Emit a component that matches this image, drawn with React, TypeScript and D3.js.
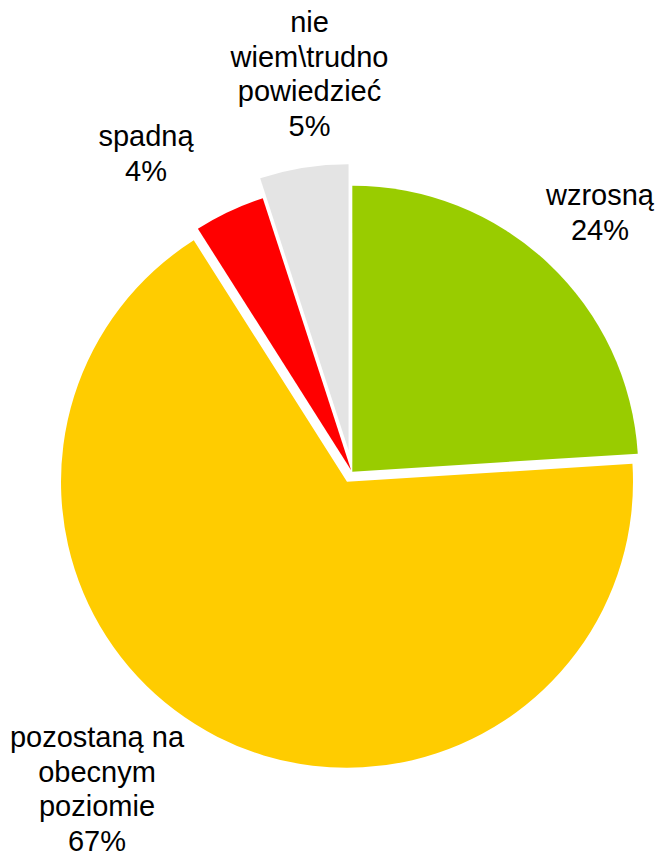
import React from "react";
import * as d3 from "d3";

const categories = ["wzrosną", "pozostaną na obecnym poziomie", "spadną", "nie wiem\\trudno powiedzieć"];
const values = [24, 67, 4, 5];
const labelLines = [["wzrosną"], ["pozostaną na", "obecnym", "poziomie"], ["spadną"], ["nie", "wiem\\trudno", "powiedzieć"]];
const colors = ["#99CC00", "#FFCC00", "#FF0000", "#E4E4E4"];

// layout
const W = 658;
const H = 855;
const CX = 352;
const CY = 472;
const R = 286;
const explode = [0.5, 11, 2, 22];
const labelAnchors = [
  [600, 205],
  [97, 747],
  [146, 146],
  [309.5, 32],
];
const FONT = 29;
const LINE = 34.5;

export default function App() {
  const pie = d3.pie<number>().sort(null).value((d) => d)(values);
  const arc = d3.arc<d3.PieArcDatum<number>>().innerRadius(0).outerRadius(R);
  return (
    <svg width={W} height={H} style={{ position: "absolute", left: 0, top: 0 }}>
      <rect width={W} height={H} fill="#fff" />
      <g transform={`translate(${CX},${CY})`}>
        {pie.map((p, i) => {
          const mid = (p.startAngle + p.endAngle) / 2;
          const dx = Math.sin(mid) * explode[i];
          const dy = -Math.cos(mid) * explode[i];
          return (
            <path key={categories[i]} d={arc(p) || ""} fill={colors[i]} transform={`translate(${dx},${dy})`} />
          );
        })}
      </g>
      {pie.map((p, i) => {
        const [x, y] = labelAnchors[i];
        const lines = [...labelLines[i], `${values[i]}%`];
        return (
          <text
            key={"l" + i}
            x={x}
            y={y}
            textAnchor="middle"
            fontFamily="'Liberation Sans', Arial, sans-serif"
            fontSize={FONT}
            fill="#000"
          >
            {lines.map((t, j) => (
              <tspan key={j} x={x} y={y + j * LINE}>
                {t}
              </tspan>
            ))}
          </text>
        );
      })}
    </svg>
  );
}
